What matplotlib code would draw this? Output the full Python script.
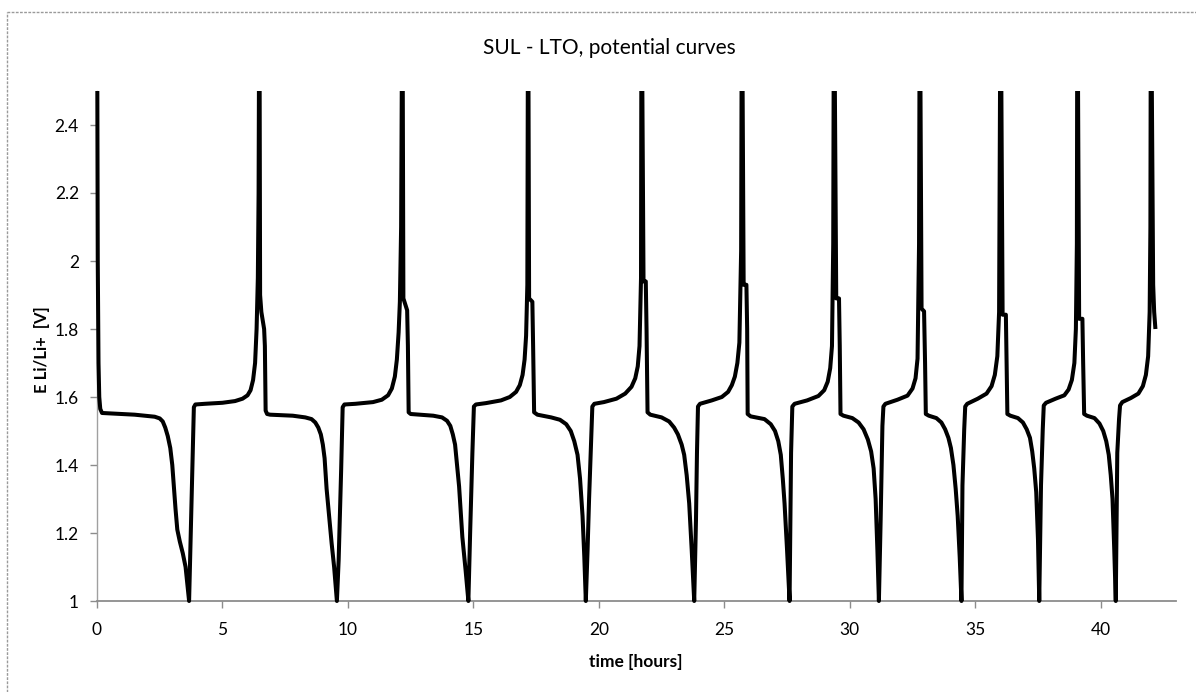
import numpy as np
import matplotlib
matplotlib.use('Agg')
import matplotlib.pyplot as plt
from matplotlib.lines import Line2D
from matplotlib.patches import Rectangle

# time [hours] and potential [V]; one line per half-cycle
# (the charge spikes go above 2.5 and get clipped by the axes)
time_h = [
    0.0, 0.03, 0.06, 0.09, 0.13, 0.2,
    1.5, 2.3, 2.5, 2.62, 2.72, 2.82, 2.92, 3.0, 3.07, 3.13, 3.2, 3.3, 3.42, 3.53, 3.67,
    3.72, 3.8, 3.86, 3.92, 4.3, 5.0, 5.5, 5.8, 6.0, 6.12, 6.22, 6.3, 6.36, 6.41, 6.44, 6.47,
    6.5, 6.55, 6.66, 6.69, 6.72, 6.78, 6.9,
    7.8, 8.3, 8.55, 8.7, 8.82, 8.92, 9.0, 9.07, 9.15, 9.25, 9.35, 9.45, 9.56,
    9.63, 9.73, 9.79, 9.86, 10.3, 11.0, 11.35, 11.6, 11.75, 11.87, 11.95, 12.02, 12.07, 12.12, 12.17,
    12.21, 12.36, 12.39, 12.42, 12.5,
    13.4, 13.75, 13.95, 14.08, 14.18, 14.27, 14.35, 14.43, 14.56, 14.69, 14.8,
    14.87, 14.96, 15.02, 15.1, 15.5, 16.1, 16.45, 16.7, 16.85, 16.96, 17.04, 17.1, 17.15, 17.18,
    17.22, 17.35, 17.38, 17.42, 17.55,
    18.1, 18.45, 18.7, 18.88, 19.02, 19.15, 19.25, 19.35, 19.42, 19.48,
    19.55, 19.61, 19.68, 19.74, 19.82, 20.2, 20.7, 21.05, 21.3, 21.45, 21.55, 21.62, 21.68, 21.7,
    21.78, 21.87, 21.9, 21.94, 22.05,
    22.5, 22.8, 23.0, 23.15, 23.3, 23.4, 23.5, 23.6, 23.7, 23.8,
    23.87, 23.91, 23.95, 24.03, 24.5, 24.9, 25.15, 25.3, 25.42, 25.52, 25.6, 25.67, 25.7,
    25.77, 25.88, 25.91, 25.93, 26.05,
    26.6, 26.85, 27.02, 27.15, 27.25, 27.33, 27.4, 27.5, 27.6,
    27.66, 27.71, 27.8, 28.3, 28.75, 28.98, 29.12, 29.22, 29.29, 29.34, 29.37,
    29.46, 29.57, 29.6, 29.63, 29.75,
    30.1, 30.35, 30.55, 30.72, 30.85, 30.95, 31.03, 31.1, 31.16,
    31.23, 31.3, 31.34, 31.42, 31.9, 32.3, 32.5, 32.62, 32.7, 32.76, 32.79,
    32.86, 32.96, 33.0, 33.03, 33.15,
    33.45, 33.65, 33.8, 33.93, 34.03, 34.13, 34.22, 34.3, 34.38, 34.45,
    34.49, 34.56, 34.6, 34.68, 35.1, 35.45, 35.65, 35.78, 35.88, 35.95, 36.01,
    36.09, 36.22, 36.25, 36.28, 36.4,
    36.7, 36.9, 37.05, 37.18, 37.27, 37.35, 37.43, 37.5, 37.55,
    37.62, 37.69, 37.73, 37.82, 38.2, 38.55, 38.72, 38.85, 38.95, 39.01, 39.05, 39.07,
    39.14, 39.27, 39.3, 39.34, 39.45,
    39.75, 39.95, 40.1, 40.22, 40.32, 40.4, 40.47, 40.54, 40.6,
    40.66, 40.73, 40.77, 40.86, 41.2, 41.5, 41.68, 41.8, 41.89, 41.95, 41.98, 42.0,
    42.09, 42.13, 42.18,
]

potential = [
    2.9, 2.0, 1.7, 1.6, 1.565, 1.553,
    1.548, 1.542, 1.537, 1.528, 1.51, 1.485, 1.45, 1.4, 1.33, 1.27, 1.21, 1.175, 1.14, 1.1, 1.0,
    1.15, 1.4, 1.57, 1.578, 1.58, 1.583, 1.588, 1.595, 1.605, 1.62, 1.65, 1.7, 1.8, 1.95, 2.2, 2.9,
    1.9, 1.85, 1.8, 1.75, 1.56, 1.55, 1.548,
    1.545, 1.54, 1.535, 1.525, 1.51, 1.49, 1.46, 1.42, 1.33, 1.25, 1.17, 1.1, 1.0,
    1.12, 1.386, 1.57, 1.578, 1.58, 1.585, 1.592, 1.605, 1.625, 1.66, 1.71, 1.79, 1.88, 2.1, 2.9,
    1.89, 1.855, 1.75, 1.555, 1.55,
    1.545, 1.54, 1.53, 1.515, 1.49, 1.46, 1.4, 1.337, 1.188, 1.09, 1.0,
    1.2, 1.436, 1.572, 1.578, 1.582, 1.59, 1.6, 1.615, 1.635, 1.665, 1.71, 1.78, 1.93, 2.9,
    1.89, 1.88, 1.75, 1.555, 1.548,
    1.54, 1.533, 1.52, 1.5, 1.47, 1.43, 1.36, 1.25, 1.13, 1.0,
    1.15, 1.3, 1.45, 1.572, 1.58, 1.585, 1.595, 1.61, 1.63, 1.655, 1.69, 1.75, 1.95, 2.9,
    1.94, 1.94, 1.8, 1.555, 1.548,
    1.54, 1.528, 1.51, 1.49, 1.46, 1.43, 1.37, 1.287, 1.15, 1.0,
    1.237, 1.436, 1.572, 1.58, 1.59, 1.6, 1.615, 1.635, 1.66, 1.7, 1.76, 2.03, 2.9,
    1.93, 1.93, 1.8, 1.55, 1.543,
    1.535, 1.52, 1.5, 1.47, 1.43, 1.36, 1.287, 1.15, 1.0,
    1.436, 1.572, 1.58, 1.59, 1.603, 1.62, 1.645, 1.685, 1.75, 2.05, 2.9,
    1.89, 1.89, 1.75, 1.55, 1.545,
    1.538, 1.525, 1.505, 1.475, 1.44, 1.39, 1.3, 1.15, 1.0,
    1.24, 1.515, 1.572, 1.58, 1.592, 1.604, 1.625, 1.655, 1.713, 2.05, 2.9,
    1.86, 1.852, 1.7, 1.55, 1.545,
    1.538, 1.525, 1.505, 1.48, 1.45, 1.4, 1.33, 1.25, 1.13, 1.0,
    1.34, 1.505, 1.572, 1.58, 1.595, 1.61, 1.632, 1.665, 1.72, 1.85, 2.9,
    1.842, 1.842, 1.7, 1.55, 1.545,
    1.538, 1.525, 1.505, 1.48, 1.44, 1.39, 1.32, 1.18, 1.0,
    1.34, 1.505, 1.575, 1.583, 1.595, 1.605, 1.622, 1.65, 1.7, 1.8, 2.05, 2.9,
    1.83, 1.83, 1.7, 1.55, 1.545,
    1.538, 1.522, 1.5, 1.47, 1.43, 1.37, 1.3, 1.15, 1.0,
    1.436, 1.535, 1.575, 1.585, 1.597, 1.61, 1.632, 1.665, 1.72, 1.85, 2.1, 2.9,
    1.93, 1.85, 1.8,
]

x_ticks = [0, 5, 10, 15, 20, 25, 30, 35, 40]
y_ticks = [1, 1.2, 1.4, 1.6, 1.8, 2, 2.2, 2.4]
y_ticklabels = ['1', '1.2', '1.4', '1.6', '1.8', '2', '2.2', '2.4']

plt.rcParams['font.family'] = ['Lato', 'DejaVu Sans']

W, H = 1196, 692
fig = plt.figure(figsize=(W / 100, H / 100), dpi=100)
ax = fig.add_axes([97 / W, 1 - 601 / H, (1176 - 97) / W, (601 - 91) / H])

line, = ax.plot(time_h, potential, color='black', lw=2.9,
                solid_joinstyle='round', solid_capstyle='butt', zorder=3)
# clip only at the top (2.5 V), so the t=0 trace keeps its full width at the y axis
clip = Rectangle((-0.02, -0.05), 1.04, 1.05, transform=ax.transAxes,
                 fill=False, visible=False)
ax.add_patch(clip)
line.set_clip_path(clip)

ax.set_xlim(0, 43)
ax.set_ylim(1, 2.5)
ax.set_xticks(x_ticks)
ax.set_yticks(y_ticks)
ax.set_yticklabels(y_ticklabels)

for side in ['top', 'right']:
    ax.spines[side].set_visible(False)
ax.spines['bottom'].set_color('#8c8c8c')
ax.spines['bottom'].set_linewidth(1.3)
ax.spines['left'].set_color('#a0a0a0')
ax.spines['left'].set_linewidth(1.0)
ax.spines['left'].set_linestyle((0, (2, 1)))

ax.tick_params(axis='both', colors='#8c8c8c', labelcolor='black',
               labelsize=12.5, length=5, width=1, direction='out')
ax.tick_params(axis='x', pad=10)
ax.tick_params(axis='y', pad=8)

fig.text(609 / W, 1 - 48 / H, 'SUL - LTO, potential curves',
         ha='center', va='center', fontsize=15)
fig.text(636 / W, 1 - 662 / H, 'time [hours]', ha='center', va='center',
         fontsize=12.5, fontweight='bold')
fig.text(42 / W, 1 - 350 / H, 'E Li/Li+  [V]', ha='center', va='center',
         fontsize=12, fontweight='bold', rotation=90)

# chart area border (only top and left edges fall inside the picture)
fig.add_artist(Line2D([7 / W, 7 / W], [0, 1 - 12 / H], color='#9a9a9a',
                      lw=1.0, ls=(0, (2, 1)), transform=fig.transFigure))
fig.add_artist(Line2D([7 / W, 1], [1 - 12 / H, 1 - 12 / H], color='#9a9a9a',
                      lw=1.0, ls=(0, (2, 1)), transform=fig.transFigure))

fig.savefig('out.png', dpi=100)
